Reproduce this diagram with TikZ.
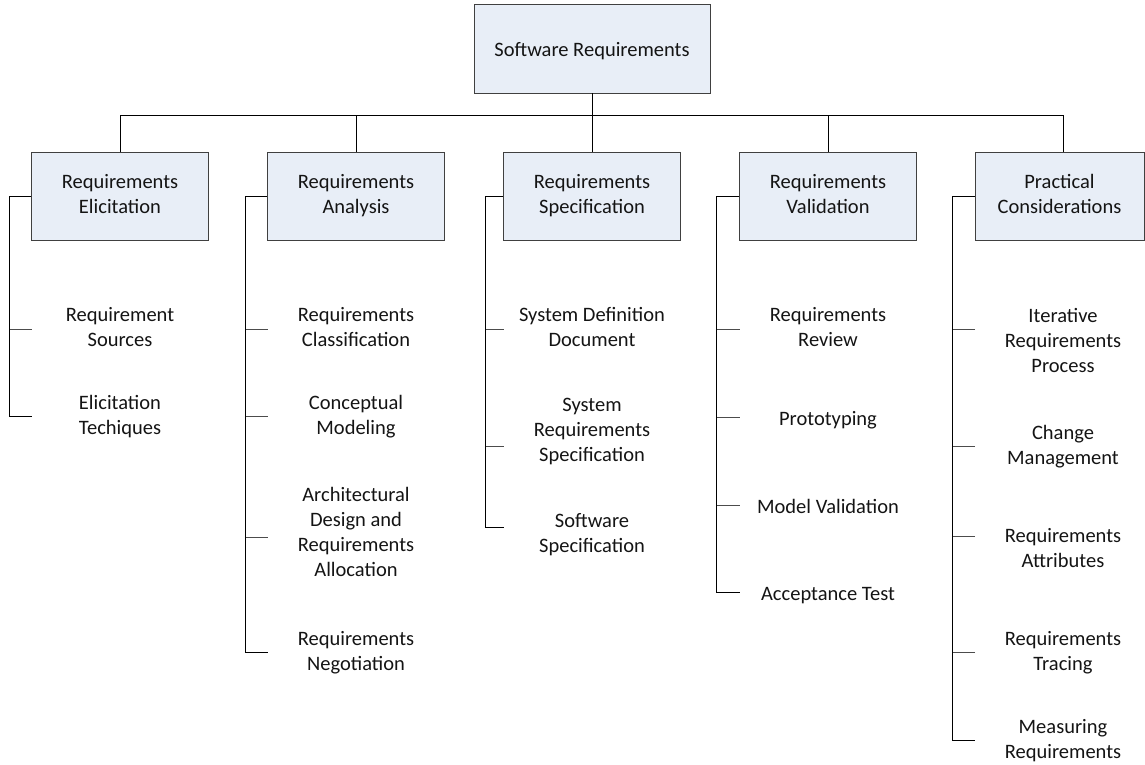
\documentclass[tikz,border=0pt]{standalone}
\usepackage{fontspec}
\setmainfont{Carlito}
\definecolor{boxfill}{RGB}{232,238,247}
\definecolor{boxline}{RGB}{64,64,64}
\definecolor{ink}{RGB}{20,20,20}
% line strut that centres the cap and x-height band of each line
\newcommand\linestrut{\rule[-4.5pt]{0pt}{25pt}}
\begin{document}
\begin{tikzpicture}[x=1pt,y=-1pt,
  every node/.style={font=\fontsize{20.5}{25}\selectfont, text=ink, align=center,
    execute at begin node={\linestrut}, execute at end node={\linestrut}},
  topic/.style={draw=boxline, fill=boxfill, line width=0.9pt,
    minimum width=177pt, minimum height=88pt, inner sep=0pt},
  item/.style={inner sep=0pt},
  link/.style={line width=1pt, draw=black},
  twig/.style={line width=1pt, draw=black!70}]
\useasboundingbox (0,0) rectangle (1145,765);

% root and first-level topics
\node[topic, minimum width=236pt, minimum height=89pt] (root) at (592,48.5) {Software Requirements};
\node[topic] (elic) at (120,196.2) {Requirements\\Elicitation};
\node[topic] (anal) at (356,196.2) {Requirements\\Analysis};
\node[topic] (spec) at (592,196.2) {Requirements\\Specification};
\node[topic] (vali) at (828,196.2) {Requirements\\Validation};
\node[topic, minimum width=169pt] (prac) at (1059.5,196.2) {Practical\\Considerations};

% bus from the root to the topics
\coordinate (busL) at (120,115.3);
\coordinate (busR) at (1063,115.3);
\draw[link] (root.south) -- (root.south |- busL);
\draw[link] (elic.north) -- (busL) -- (busR) -- (busR |- prac.north);
\draw[link] (anal.north) -- (anal.north |- busL);
\draw[link] (spec.north) -- (spec.north |- busL);
\draw[link] (vali.north) -- (vali.north |- busL);

% Requirements Elicitation
\node[item] (e1) at (120,329) {Requirement\\Sources};
\node[item] (e2) at (120,417.5) {Elicitation\\Techiques};
\coordinate (eb1) at (31.5,329);
\coordinate (eb2) at (31.5,416.7);
\draw[link] (elic.west) -- ++(-22,0) |- (eb2);
\draw[twig] (eb1) -- ++(-22,0);

% Requirements Analysis
\node[item] (a1) at (356,329) {Requirements\\Classification};
\node[item] (a2) at (356,417.5) {Conceptual\\Modeling};
\node[item] (a3) at (356,534.5) {Architectural\\Design and\\Requirements\\Allocation};
\node[item] (a4) at (356,653.5) {Requirements\\Negotiation};
\coordinate (ab1) at (267.5,329);
\coordinate (ab2) at (267.5,416.7);
\coordinate (ab3) at (267.5,537.7);
\coordinate (ab4) at (267.5,652.7);
\draw[link] (anal.west) -- ++(-22,0) |- (ab4);
\foreach \b in {ab1,ab2,ab3} \draw[twig] (\b) -- ++(-22,0);

% Requirements Specification
\node[item] (s1) at (592,329) {System Definition\\Document};
\node[item] (s2) at (592,432) {System\\Requirements\\Specification};
\node[item] (s3) at (592,535.5) {Software\\Specification};
\coordinate (sb1) at (503.5,329);
\coordinate (sb2) at (503.5,446.7);
\coordinate (sb3) at (503.5,527.7);
\draw[link] (spec.west) -- ++(-17.8,0) |- (sb3);
\foreach \b in {sb1,sb2} \draw[twig] (\b) -- ++(-17.8,0);

% Requirements Validation
\node[item] (v1) at (828,329) {Requirements\\Review};
\node[item] (v2) at (828,417.3) {Prototyping};
\node[item] (v3) at (828,505) {Model Validation};
\node[item] (v4) at (828,592) {Acceptance Test};
\coordinate (vb1) at (739.5,329);
\coordinate (vb2) at (739.5,417.3);
\coordinate (vb3) at (739.5,505);
\coordinate (vb4) at (739.5,592.3);
\draw[link] (vali.west) -- ++(-22.8,0) |- (vb4);
\foreach \b in {vb1,vb2,vb3} \draw[twig] (\b) -- ++(-22.8,0);

% Practical Considerations
\node[item] (p1) at (1063,343) {Iterative\\Requirements\\Process};
\node[item] (p2) at (1063,447) {Change\\Management};
\node[item] (p3) at (1063,550) {Requirements\\Attributes};
\node[item] (p4) at (1063,653.5) {Requirements\\Tracing};
\node[item] (p5) at (1063,741) {Measuring\\Requirements};
\coordinate (pb1) at (975,329);
\coordinate (pb2) at (975,446);
\coordinate (pb3) at (975,536);
\coordinate (pb4) at (975,652.7);
\coordinate (pb5) at (975,740.7);
\draw[link] (prac.west) -- ++(-22.3,0) |- (pb5);
\foreach \b in {pb1,pb2,pb3,pb4} \draw[twig] (\b) -- ++(-22.3,0);
\end{tikzpicture}
\end{document}
